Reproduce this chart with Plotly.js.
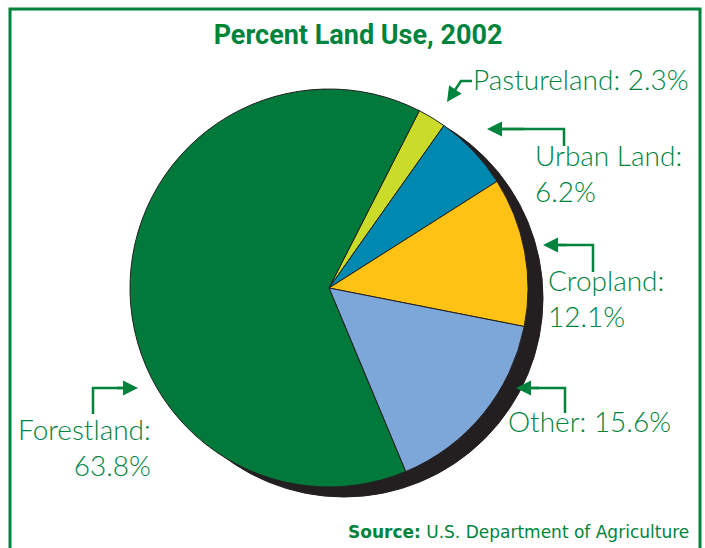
<!DOCTYPE html>
<html>
<head>
<meta charset="utf-8">
<script src="https://cdn.plot.ly/plotly-3.0.1.min.js"></script>
<style>html,body{margin:0;padding:0;background:#fff;}#chart{width:705px;height:548px;}</style>
</head>
<body>
<div id="chart"></div>
<script>
// ---- data ----
const categories = ['Pastureland', 'Urban Land', 'Cropland', 'Other', 'Forestland'];
const values = [2.3, 6.2, 12.1, 15.6, 63.8];
const sliceColors = ['#cbdb2a', '#0089b0', '#fdc213', '#7da7d9', '#00793a'];
const labelBreaks = [' ', '<br>', '<br>', ' ', '<br>'];
const titleText = 'Percent Land Use, 2002';
const sourceText = '<b>Source:</b> U.S. Department of Agriculture';

// ---- layout helpers (pixel -> paper) ----
const W = 705, H = 548;
const px = x => x / W;
const py = y => 1 - y / H;
const GREEN = '#00843d';
const LABEL_FONT = {family: 'Lato, "Open Sans", sans-serif', size: 28, color: GREEN, weight: 300};

const cx = 329, cy = 288, r = 199;
const shadowDx = 15, shadowDy = 10;

const pie = {
  type: 'pie',
  values: values,
  labels: categories,
  marker: {colors: sliceColors, line: {color: '#231f20', width: 1}},
  sort: false,
  direction: 'clockwise',
  rotation: 27,
  textinfo: 'none',
  hoverinfo: 'label+percent',
  showlegend: false,
  domain: {x: [px(cx - r), px(cx + r)], y: [py(cy + r), py(cy - r)]}
};

// label placement: [x, top y, xanchor, align]
const labelPos = [
  [471, 60, 'left', 'left'],
  [533, 136, 'left', 'left'],
  [546, 261, 'left', 'left'],
  [506, 402, 'left', 'left'],
  [153, 410, 'right', 'right']
];
// arrow polylines: tail(vertical end) -> corner -> head
const arrows = [
  [[472, 81], [461, 81], [447, 102]],
  [[564, 146], [564, 129], [487, 129]],
  [[593, 272], [593, 245], [543, 245]],
  [[565, 413], [565, 388], [516, 388]],
  [[93, 414], [93, 388], [138, 388]]
];

const annotations = [];
const shapes = [];

// frame
shapes.push({type: 'rect', xref: 'paper', yref: 'paper', x0: px(10), x1: px(700), y0: py(560), y1: py(9),
  line: {color: GREEN, width: 3}, layer: 'above'});
// shadow
shapes.push({type: 'circle', xref: 'paper', yref: 'paper',
  x0: px(cx - r + shadowDx), x1: px(cx + r + shadowDx), y0: py(cy + r + shadowDy), y1: py(cy - r + shadowDy),
  fillcolor: '#231f20', line: {color: '#231f20', width: 1}, layer: 'below'});

categories.forEach((c, i) => {
  const p = labelPos[i];
  annotations.push({
    xref: 'paper', yref: 'paper', x: px(p[0]), y: py(p[1]), xanchor: p[2], yanchor: 'top', align: p[3],
    text: c + ':' + labelBreaks[i] + values[i].toFixed(1) + '%', showarrow: false, font: LABEL_FONT
  });
  const a = arrows[i];
  // stop the line a few px before the tip so the head stays sharp
  const dxh = a[2][0] - a[1][0], dyh = a[2][1] - a[1][1];
  const len = Math.hypot(dxh, dyh);
  const ex = a[2][0] - dxh / len * 6, ey = a[2][1] - dyh / len * 6;
  shapes.push({type: 'path', xref: 'paper', yref: 'paper',
    path: 'M' + px(a[0][0]) + ',' + py(a[0][1]) + ' L' + px(a[1][0]) + ',' + py(a[1][1]) + ' L' + px(ex) + ',' + py(ey),
    line: {color: GREEN, width: 2.5}});
  annotations.push({
    xref: 'paper', yref: 'paper', x: px(a[2][0]), y: py(a[2][1]), text: '',
    showarrow: true, arrowhead: 2, arrowsize: 1.2, arrowwidth: 2.5, arrowcolor: GREEN, standoff: 0,
    axref: 'pixel', ayref: 'pixel', ax: (a[1][0] - a[2][0]) * 0.5, ay: (a[1][1] - a[2][1]) * 0.5
  });
});

annotations.push({xref: 'paper', yref: 'paper', x: px(691), y: py(532), xanchor: 'right', yanchor: 'middle',
  text: sourceText, showarrow: false, font: {family: '"DejaVu Sans", sans-serif', size: 17, color: GREEN}});

const layout = {
  width: W, height: H,
  margin: {l: 0, r: 0, t: 0, b: 0},
  paper_bgcolor: '#ffffff',
  title: {text: '<b>' + titleText + '</b>', x: px(358), xanchor: 'center', y: py(35), yanchor: 'middle',
    xref: 'paper', yref: 'container', font: {family: 'Roboto, sans-serif', size: 27, color: GREEN}},
  annotations: annotations,
  shapes: shapes,
  showlegend: false
};

Plotly.newPlot('chart', [pie], layout, {displayModeBar: false, staticPlot: true});
</script>
</body>
</html>
